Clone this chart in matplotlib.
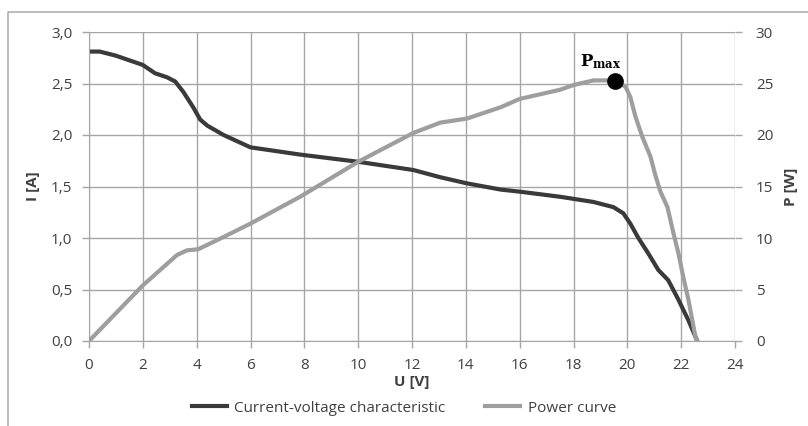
import matplotlib
matplotlib.use("Agg")
import matplotlib.pyplot as plt
from matplotlib.lines import Line2D
from matplotlib.ticker import FuncFormatter

plt.rcParams['font.family'] = ['Open Sans', 'DejaVu Sans']

# current-voltage characteristic (U [V], I [A])
u_iv = [0, 0.4, 1.0, 2.0, 2.45, 2.9, 3.2, 3.5, 3.87, 4.13, 4.4, 5.0, 6.0, 7.84, 10.0,
        12.05, 13.05, 14.05, 15.3, 16.0, 17.51, 18.74, 19.48, 19.85, 20.11, 20.41,
        20.78, 21.15, 21.52, 21.9, 22.27, 22.6]
i_iv = [2.81, 2.81, 2.77, 2.68, 2.60, 2.56, 2.52, 2.42, 2.27, 2.15, 2.09, 2.00, 1.88, 1.81, 1.74,
        1.66, 1.59, 1.53, 1.47, 1.45, 1.40, 1.35, 1.30, 1.24, 1.14, 1.00,
        0.85, 0.69, 0.59, 0.40, 0.20, 0.0]

# power curve (U [V], P [W])
u_p = [0, 2.0, 3.27, 3.64, 4.05, 5.0, 6.0, 7.84, 10.0, 12.05, 13.05, 14.05, 15.3, 16.0,
       17.51, 18.0, 18.74, 19.37, 19.55, 19.93, 20.11, 20.3, 20.56, 20.86, 21.04,
       21.23, 21.49, 21.71, 21.9, 22.08, 22.27, 22.53, 22.6]
p_p = [0, 5.4, 8.35, 8.8, 8.9, 10.1, 11.4, 14.0, 17.4, 20.2, 21.2, 21.6, 22.7, 23.5,
       24.4, 24.85, 25.3, 25.3, 25.2, 24.7, 23.7, 21.8, 19.8, 17.9, 16.1,
       14.5, 13.0, 10.5, 8.5, 6.2, 4.0, 0.4, 0]

u_max, p_max = 19.55, 25.2

dark = '#3a3a3a'
light = '#9e9e9e'
grid_c = '#a6a6a6'
txt = '#404040'

fig = plt.figure(figsize=(8.08, 4.26), dpi=100)
ax = fig.add_axes([89 / 808, 85 / 426, 646 / 808, 309 / 426])
ax2 = ax.twinx()

ax.plot(u_iv, i_iv, color=dark, lw=3, solid_capstyle='round', solid_joinstyle='round')
ax2.plot(u_p, p_p, color=light, lw=3, solid_capstyle='round', solid_joinstyle='round')
ax2.plot([u_max], [p_max], 'o', color='black', ms=11)
ax2.text(u_max - 0.55, p_max + 1.0, r'$\mathbf{P_{max}}$', ha='center', va='bottom',
         fontsize=12, math_fontfamily='dejavuserif', color='black')

ax.set_xlim(0, 24)
ax.set_ylim(0, 3)
ax2.set_ylim(0, 30)
ax.set_xticks(range(0, 25, 2))
ax.set_yticks([0, 0.5, 1.0, 1.5, 2.0, 2.5, 3.0])
ax2.set_yticks(range(0, 31, 5))
ax.yaxis.set_major_formatter(FuncFormatter(lambda v, p: f'{v:.1f}'.replace('.', ',')))

ax.grid(True, color=grid_c, lw=1)
ax.set_axisbelow(True)
for a in (ax, ax2):
    for s in a.spines.values():
        s.set_visible(False)
    a.tick_params(colors=grid_c, labelcolor=txt, labelsize=11, length=5, width=1)
ax.spines['left'].set_visible(True)
ax.spines['left'].set_color(grid_c)
ax.spines['bottom'].set_visible(True)
ax.spines['bottom'].set_color(grid_c)
ax.tick_params(axis='x', pad=7)
ax.tick_params(axis='y', pad=7)
ax2.tick_params(axis='y', pad=10)

ax.set_xlabel('U [V]', fontsize=11, fontweight='bold', color=txt, labelpad=2)
ax.set_ylabel('I [A]', fontsize=11, fontweight='bold', color=txt, labelpad=8)
ax2.set_ylabel('P [W]', fontsize=11, fontweight='bold', color=txt, labelpad=8, rotation=90)

handles = [Line2D([], [], color=dark, lw=3), Line2D([], [], color=light, lw=3)]
fig.legend(handles, ['Current-voltage characteristic', 'Power curve'], loc='center',
           bbox_to_anchor=(0.5, 18 / 426), ncol=2, frameon=False, fontsize=11,
           handlelength=2.3, handletextpad=0.5, columnspacing=2.6, labelcolor=txt)

# outer chart frame (cropped)
fig.add_artist(Line2D([8 / 808, 8 / 808, 1.0], [0, 414 / 426, 414 / 426],
                      transform=fig.transFigure, color='#b0b0b0', lw=1.2))

fig.savefig('out.png', dpi=100)
